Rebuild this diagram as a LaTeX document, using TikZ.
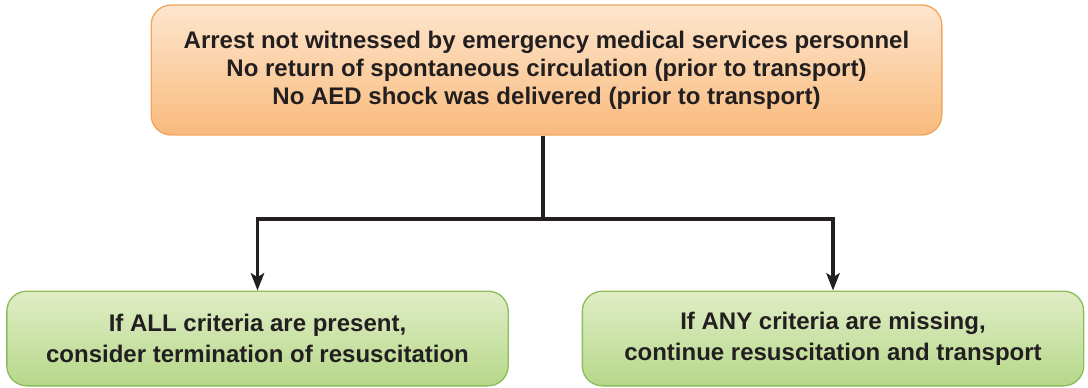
\documentclass[tikz,border=0pt]{standalone}
\usepackage{fontspec}
\setmainfont{Liberation Sans}
\usepackage{xcolor}
\usetikzlibrary{arrows.meta}
\definecolor{peachtop}{HTML}{FDE6CE}
\definecolor{peachbot}{HTML}{F9BA7C}
\definecolor{peachline}{HTML}{EFA75F}
\definecolor{greentop}{HTML}{E0EDC6}
\definecolor{greenbot}{HTML}{B6D88A}
\definecolor{greenline}{HTML}{8DBD5B}
\definecolor{ink}{HTML}{231F20}
\tikzset{criteria box/.style={draw=peachline,line width=1pt,rounded corners=15pt,top color=peachtop,bottom color=peachbot,minimum width=593pt,minimum height=97.5pt,align=center,font=\fontsize{18}{21}\selectfont\bfseries,text=ink},
  outcome box/.style={draw=greenline,line width=1pt,rounded corners=15pt,top color=greentop,bottom color=greenbot,minimum width=376pt,minimum height=71pt,align=center,font=\fontsize{18}{23}\selectfont\bfseries,text=ink},
  flow line/.style={draw=ink,line width=2.3pt}}

\begin{document}
\begin{tikzpicture}[x=0.75pt,y=-0.75pt]
			\useasboundingbox (0,0) rectangle (1088,388);
			\node[criteria box] (crit) at (546.5,70) {Arrest not witnessed by emergency medical services personnel\\No return of spontaneous circulation (prior to transport)\\No AED shock was delivered (prior to transport)};
			\node[outcome box] (allpresent) at (257.5,338.5) {If ALL criteria are present,\\consider termination of resuscitation};
			\node[outcome box] (anymissing) at (833,338.5) {If ANY criteria are missing,\\continue resuscitation and transport};
			\coordinate (branch) at (543,219);
			\draw[flow line] (branch |- crit.south) -- (branch);
			\draw[flow line,-{Stealth[length=13pt,width=10pt,inset=3pt]}] (branch) -| (allpresent.north);
			\draw[flow line,-{Stealth[length=13pt,width=10pt,inset=3pt]}] (branch) -| (anymissing.north);
		\end{tikzpicture}
\end{document}
